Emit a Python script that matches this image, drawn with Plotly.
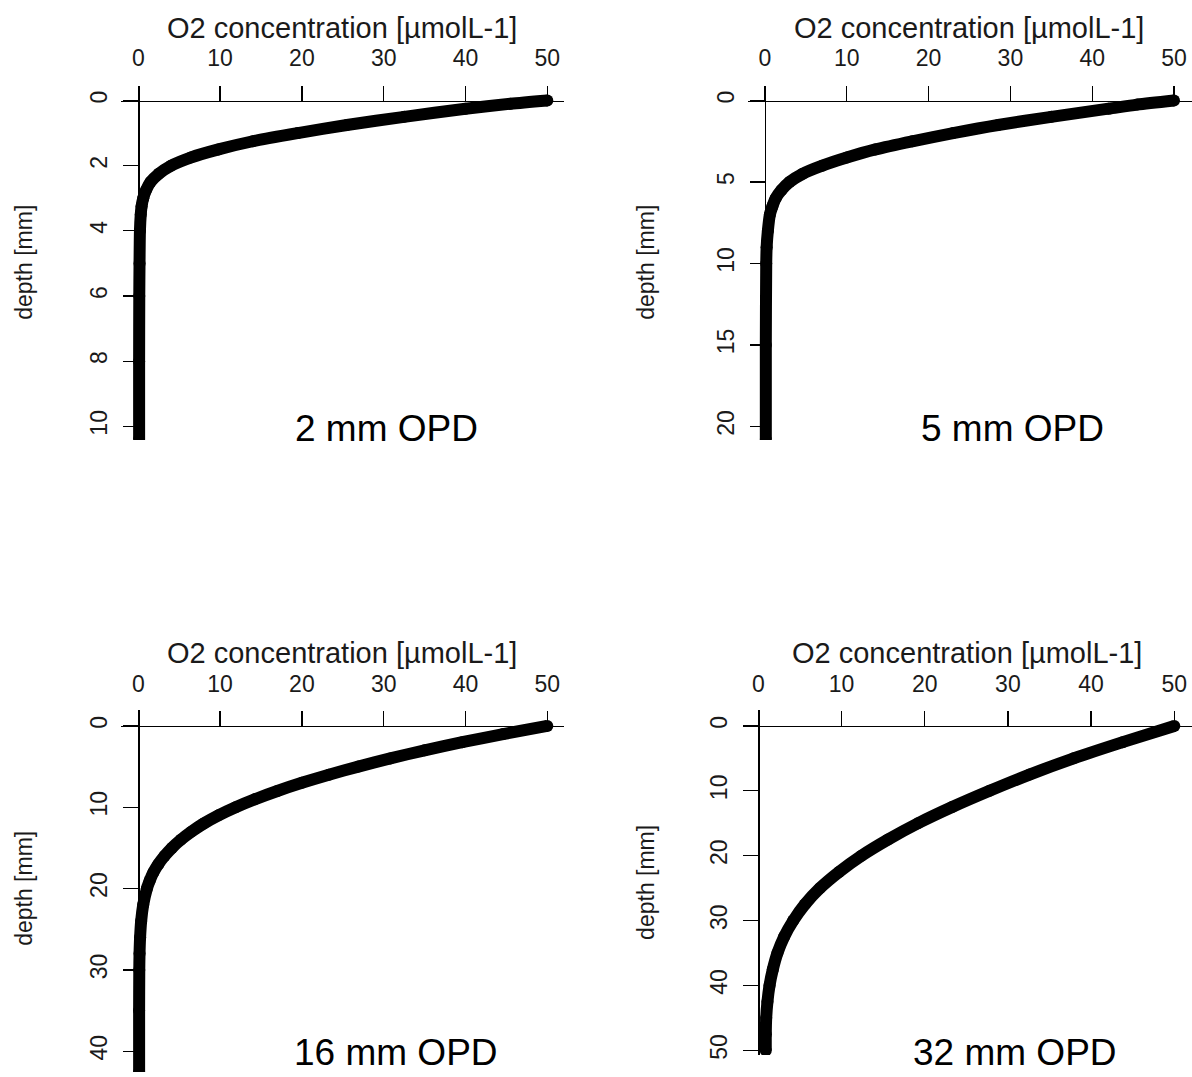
import plotly.graph_objects as go

W, H = 1192, 1077

# ---------------- data ----------------
depth_2mm = [0, 0.1, 0.25, 0.5, 0.75, 1.0, 1.25, 1.5, 1.75, 2.0, 2.25, 2.5, 2.75,
             3.0, 3.25, 3.5, 4.0, 5.0, 6.0, 8.0, 10.4]
o2_2mm = [50, 45.5, 40, 32.5, 25.5, 19.5, 14, 9.8, 6.4, 4.0, 2.5, 1.5, 0.95,
          0.6, 0.4, 0.3, 0.2, 0.15, 0.12, 0.1, 0.1]

depth_5mm = [0, 0.25, 0.5, 1.0, 1.5, 2.0, 2.5, 3.0, 3.5, 4.0, 4.5, 5.0, 5.5,
             6.0, 6.5, 7.0, 8.0, 9.0, 10.0, 15.0, 20.8]
o2_5mm = [50, 45.5, 42, 35, 28.5, 23, 18, 13.5, 10, 7, 4.6, 3.0, 2.0,
          1.3, 0.9, 0.6, 0.35, 0.2, 0.15, 0.1, 0.1]

depth_16mm = [0, 1, 2, 3, 4, 5, 6, 7, 8, 9, 10, 11, 12, 13, 14, 15, 16, 17, 18,
              19, 20, 22, 24, 26, 28, 30, 35, 42.6]
o2_16mm = [50, 44.6, 39.6, 35.0, 30.8, 26.9, 23.3, 20.0, 17.0, 14.3, 11.9, 9.8,
           8.0, 6.5, 5.2, 4.1, 3.2, 2.45, 1.85, 1.4, 1.05, 0.6, 0.35, 0.22,
           0.15, 0.12, 0.1, 0.1]

depth_32mm = [0, 2.5, 5, 7.5, 10, 12.5, 15, 17.5, 20, 22.5, 25, 27.5, 30, 32.5,
              35, 37.5, 40, 42.5, 45, 47.5, 50]
o2_32mm = [50, 43.8, 37.9, 32.6, 27.8, 23.3, 19.2, 15.6, 12.4, 9.7, 7.4, 5.6,
           4.2, 3.1, 2.3, 1.75, 1.35, 1.1, 0.95, 0.9, 0.9]

x_ticks = [0, 10, 20, 30, 40, 50]
y_ticks_2mm = [0, 2, 4, 6, 8, 10]
y_ticks_5mm = [0, 5, 10, 15, 20]
y_ticks_16mm = [0, 10, 20, 30, 40]
y_ticks_32mm = [0, 10, 20, 30, 40, 50]

labels = ["2 mm OPD", "5 mm OPD", "16 mm OPD", "32 mm OPD"]
x_title = "O2 concentration [µmolL-1]"
y_title = "depth [mm]"

series = [
    (depth_2mm, o2_2mm, y_ticks_2mm),
    (depth_5mm, o2_5mm, y_ticks_5mm),
    (depth_16mm, o2_16mm, y_ticks_16mm),
    (depth_32mm, o2_32mm, y_ticks_32mm),
]

# ---------------- layout geometry (pixels) ----------------
# left, right, top, bottom, x-origin px, px per x unit, y-origin px, px per y unit
geom = [
    (120.7, 564.0, 86, 442, 138.3, 8.18, 101.0, 32.73),
    (748.3, 1192.0, 86, 442, 765.0, 8.18, 101.0, 16.37),
    (120.7, 564.0, 713, 1077, 138.3, 8.18, 729.3, 8.17),
    (742.7, 1192.0, 713, 1060, 758.3, 8.32, 729.3, 6.52),
]
label_pos = [(386, 430), (1012, 430), (396, 1057), (1015, 1057)]
xtitle_pos = [(342, 28), (969, 28), (342, 656), (967, 656)]
ytitle_pos = [(24, 264), (646, 264), (24, 893), (646, 887)]

FONT = "Liberation Sans, Arial, sans-serif"
TXT = "#1a1a1a"

fig = go.Figure()
layout = dict(
    width=W, height=H, margin=dict(l=0, r=0, t=0, b=0),
    paper_bgcolor="white", plot_bgcolor="white", showlegend=False,
    font=dict(family=FONT, color=TXT),
    annotations=[],
)

for i, ((d, c, yt), g) in enumerate(zip(series, geom)):
    left, right, top, bottom, x0p, sx, y0p, sy = g
    xa = "xaxis" if i == 0 else f"xaxis{i+1}"
    ya = "yaxis" if i == 0 else f"yaxis{i+1}"
    xr = "x" if i == 0 else f"x{i+1}"
    yr = "y" if i == 0 else f"y{i+1}"
    fig.add_trace(go.Scatter(
        x=c, y=d, xaxis=xr, yaxis=yr, mode="lines+markers",
        line=dict(color="black", width=12, shape="spline", smoothing=0.7),
        marker=dict(color="black", size=12),
        hoverinfo="skip",
    ))
    x_range = [(left - x0p) / sx, (right - x0p) / sx]
    y_range = [(bottom - y0p) / sy, (top - y0p) / sy]  # reversed (depth down)
    layout[xa] = dict(
        domain=[left / W, right / W], range=x_range, side="top",
        anchor="free", position=1 - y0p / H,
        showgrid=False, zeroline=False, showline=True, linecolor="black",
        linewidth=1.3, ticks="outside", ticklen=15, tickwidth=1.3,
        tickcolor="black", tickvals=x_ticks, ticklabelstandoff=10,
        tickfont=dict(size=23, color=TXT, family=FONT),
    )
    layout[ya] = dict(
        domain=[1 - bottom / H, 1 - top / H], range=y_range,
        anchor="free", position=x0p / W,
        showgrid=False, zeroline=False, showline=True, linecolor="black",
        linewidth=1.3, ticks="outside", ticklen=15, tickwidth=1.3,
        tickcolor="black", tickvals=yt, tickangle=-90, ticklabelstandoff=7,
        tickfont=dict(size=23, color=TXT, family=FONT),
    )
    lx, ly = label_pos[i]
    layout["annotations"].append(dict(
        text=labels[i], x=lx / W, y=1 - ly / H, xref="paper", yref="paper",
        xanchor="center", yanchor="middle", showarrow=False,
        font=dict(size=37, color="black", family=FONT)))
    tx, ty = xtitle_pos[i]
    layout["annotations"].append(dict(
        text=x_title, x=tx / W, y=1 - ty / H, xref="paper", yref="paper",
        xanchor="center", yanchor="middle", showarrow=False,
        font=dict(size=29, color=TXT, family=FONT)))
    vx, vy = ytitle_pos[i]
    layout["annotations"].append(dict(
        text=y_title, x=vx / W, y=1 - vy / H, xref="paper", yref="paper",
        xanchor="center", yanchor="middle", showarrow=False, textangle=-90,
        font=dict(size=23, color=TXT, family=FONT)))

fig.update_layout(**layout)
fig.write_html(
    "out.html",
    config={"displayModeBar": False, "staticPlot": True},
    post_script="document.body.style.margin='0';document.body.style.overflow='hidden';",
)
